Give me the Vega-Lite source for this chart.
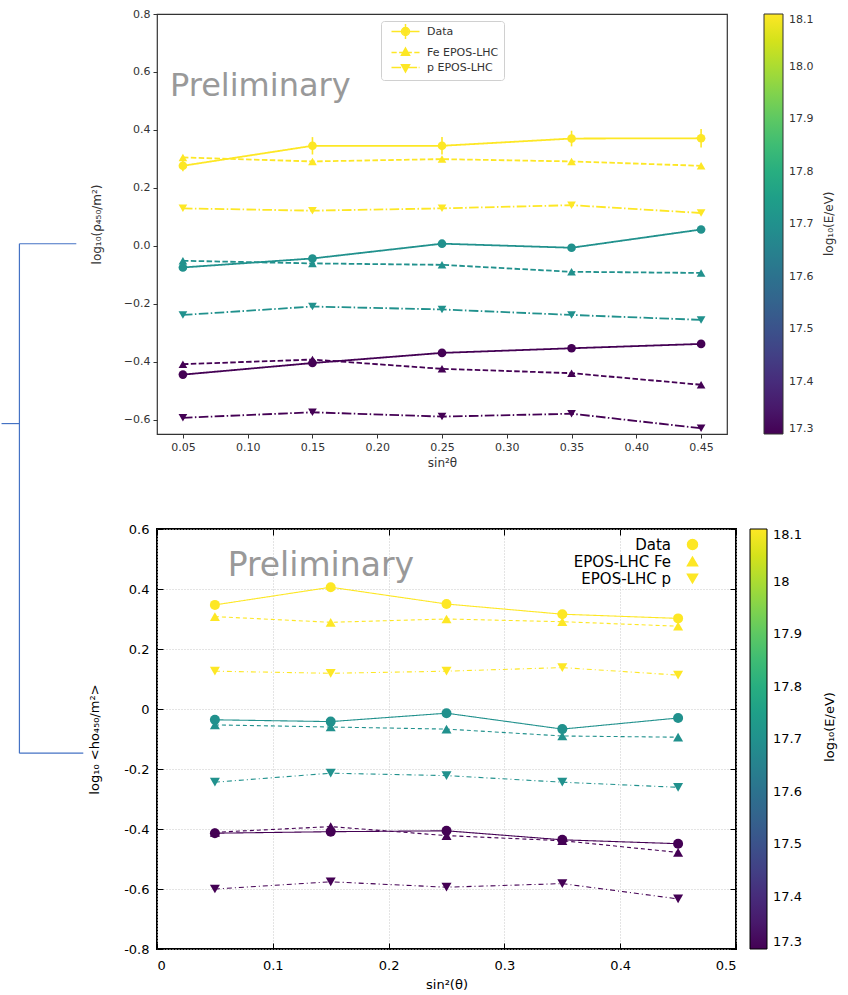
{
  "$schema": "https://vega.github.io/schema/vega-lite/v6.json",
  "padding": {"left": 0, "top": 7, "right": 0, "bottom": 0},
  "background": "white",
  "config": {"font": "DejaVu Sans", "legend": {"symbolBaseFillColor": "#fde725", "symbolBaseStrokeColor": "#fde725"}},
  "datasets": {
    "top": [
      {"x": 0.05, "E": 18.1, "model": "Data", "y": 0.276, "lo": 0.257, "hi": 0.295},
      {"x": 0.15, "E": 18.1, "model": "Data", "y": 0.345, "lo": 0.315, "hi": 0.375},
      {"x": 0.25, "E": 18.1, "model": "Data", "y": 0.345, "lo": 0.315, "hi": 0.375},
      {"x": 0.35, "E": 18.1, "model": "Data", "y": 0.370, "lo": 0.343, "hi": 0.397},
      {"x": 0.45, "E": 18.1, "model": "Data", "y": 0.371, "lo": 0.339, "hi": 0.403},
      {"x": 0.05, "E": 18.1, "model": "Fe EPOS-LHC", "y": 0.305},
      {"x": 0.15, "E": 18.1, "model": "Fe EPOS-LHC", "y": 0.291},
      {"x": 0.25, "E": 18.1, "model": "Fe EPOS-LHC", "y": 0.299},
      {"x": 0.35, "E": 18.1, "model": "Fe EPOS-LHC", "y": 0.291},
      {"x": 0.45, "E": 18.1, "model": "Fe EPOS-LHC", "y": 0.276},
      {"x": 0.05, "E": 18.1, "model": "p EPOS-LHC", "y": 0.129},
      {"x": 0.15, "E": 18.1, "model": "p EPOS-LHC", "y": 0.121},
      {"x": 0.25, "E": 18.1, "model": "p EPOS-LHC", "y": 0.129},
      {"x": 0.35, "E": 18.1, "model": "p EPOS-LHC", "y": 0.140},
      {"x": 0.45, "E": 18.1, "model": "p EPOS-LHC", "y": 0.113},
      {"x": 0.05, "E": 17.7, "model": "Data", "y": -0.075, "lo": -0.085, "hi": -0.065},
      {"x": 0.15, "E": 17.7, "model": "Data", "y": -0.044, "lo": -0.054, "hi": -0.034},
      {"x": 0.25, "E": 17.7, "model": "Data", "y": 0.007, "lo": -0.003, "hi": 0.017},
      {"x": 0.35, "E": 17.7, "model": "Data", "y": -0.007, "lo": -0.017, "hi": 0.003},
      {"x": 0.45, "E": 17.7, "model": "Data", "y": 0.056, "lo": 0.045, "hi": 0.067},
      {"x": 0.05, "E": 17.7, "model": "Fe EPOS-LHC", "y": -0.052},
      {"x": 0.15, "E": 17.7, "model": "Fe EPOS-LHC", "y": -0.061},
      {"x": 0.25, "E": 17.7, "model": "Fe EPOS-LHC", "y": -0.066},
      {"x": 0.35, "E": 17.7, "model": "Fe EPOS-LHC", "y": -0.090},
      {"x": 0.45, "E": 17.7, "model": "Fe EPOS-LHC", "y": -0.094},
      {"x": 0.05, "E": 17.7, "model": "p EPOS-LHC", "y": -0.239},
      {"x": 0.15, "E": 17.7, "model": "p EPOS-LHC", "y": -0.210},
      {"x": 0.25, "E": 17.7, "model": "p EPOS-LHC", "y": -0.220},
      {"x": 0.35, "E": 17.7, "model": "p EPOS-LHC", "y": -0.239},
      {"x": 0.45, "E": 17.7, "model": "p EPOS-LHC", "y": -0.256},
      {"x": 0.05, "E": 17.3, "model": "Data", "y": -0.445, "lo": -0.453, "hi": -0.437},
      {"x": 0.15, "E": 17.3, "model": "Data", "y": -0.405, "lo": -0.413, "hi": -0.397},
      {"x": 0.25, "E": 17.3, "model": "Data", "y": -0.370, "lo": -0.378, "hi": -0.362},
      {"x": 0.35, "E": 17.3, "model": "Data", "y": -0.354, "lo": -0.362, "hi": -0.346},
      {"x": 0.45, "E": 17.3, "model": "Data", "y": -0.339, "lo": -0.347, "hi": -0.331},
      {"x": 0.05, "E": 17.3, "model": "Fe EPOS-LHC", "y": -0.409},
      {"x": 0.15, "E": 17.3, "model": "Fe EPOS-LHC", "y": -0.393},
      {"x": 0.25, "E": 17.3, "model": "Fe EPOS-LHC", "y": -0.425},
      {"x": 0.35, "E": 17.3, "model": "Fe EPOS-LHC", "y": -0.440},
      {"x": 0.45, "E": 17.3, "model": "Fe EPOS-LHC", "y": -0.480},
      {"x": 0.05, "E": 17.3, "model": "p EPOS-LHC", "y": -0.594},
      {"x": 0.15, "E": 17.3, "model": "p EPOS-LHC", "y": -0.575},
      {"x": 0.25, "E": 17.3, "model": "p EPOS-LHC", "y": -0.590},
      {"x": 0.35, "E": 17.3, "model": "p EPOS-LHC", "y": -0.580},
      {"x": 0.45, "E": 17.3, "model": "p EPOS-LHC", "y": -0.630}
    ],
    "bottom": [
      {"x": 0.05, "E": 18.1, "model": "Data", "y": 0.347},
      {"x": 0.15, "E": 18.1, "model": "Data", "y": 0.406},
      {"x": 0.25, "E": 18.1, "model": "Data", "y": 0.350},
      {"x": 0.35, "E": 18.1, "model": "Data", "y": 0.316},
      {"x": 0.45, "E": 18.1, "model": "Data", "y": 0.302},
      {"x": 0.05, "E": 18.1, "model": "EPOS-LHC Fe", "y": 0.308},
      {"x": 0.15, "E": 18.1, "model": "EPOS-LHC Fe", "y": 0.289},
      {"x": 0.25, "E": 18.1, "model": "EPOS-LHC Fe", "y": 0.300},
      {"x": 0.35, "E": 18.1, "model": "EPOS-LHC Fe", "y": 0.291},
      {"x": 0.45, "E": 18.1, "model": "EPOS-LHC Fe", "y": 0.276},
      {"x": 0.05, "E": 18.1, "model": "EPOS-LHC p", "y": 0.126},
      {"x": 0.15, "E": 18.1, "model": "EPOS-LHC p", "y": 0.119},
      {"x": 0.25, "E": 18.1, "model": "EPOS-LHC p", "y": 0.126},
      {"x": 0.35, "E": 18.1, "model": "EPOS-LHC p", "y": 0.138},
      {"x": 0.45, "E": 18.1, "model": "EPOS-LHC p", "y": 0.113},
      {"x": 0.05, "E": 17.7, "model": "Data", "y": -0.036},
      {"x": 0.15, "E": 17.7, "model": "Data", "y": -0.042},
      {"x": 0.25, "E": 17.7, "model": "Data", "y": -0.014},
      {"x": 0.35, "E": 17.7, "model": "Data", "y": -0.067},
      {"x": 0.45, "E": 17.7, "model": "Data", "y": -0.030},
      {"x": 0.05, "E": 17.7, "model": "EPOS-LHC Fe", "y": -0.053},
      {"x": 0.15, "E": 17.7, "model": "EPOS-LHC Fe", "y": -0.060},
      {"x": 0.25, "E": 17.7, "model": "EPOS-LHC Fe", "y": -0.067},
      {"x": 0.35, "E": 17.7, "model": "EPOS-LHC Fe", "y": -0.090},
      {"x": 0.45, "E": 17.7, "model": "EPOS-LHC Fe", "y": -0.094},
      {"x": 0.05, "E": 17.7, "model": "EPOS-LHC p", "y": -0.244},
      {"x": 0.15, "E": 17.7, "model": "EPOS-LHC p", "y": -0.214},
      {"x": 0.25, "E": 17.7, "model": "EPOS-LHC p", "y": -0.222},
      {"x": 0.35, "E": 17.7, "model": "EPOS-LHC p", "y": -0.244},
      {"x": 0.45, "E": 17.7, "model": "EPOS-LHC p", "y": -0.261},
      {"x": 0.05, "E": 17.3, "model": "Data", "y": -0.414},
      {"x": 0.15, "E": 17.3, "model": "Data", "y": -0.409},
      {"x": 0.25, "E": 17.3, "model": "Data", "y": -0.406},
      {"x": 0.35, "E": 17.3, "model": "Data", "y": -0.436},
      {"x": 0.45, "E": 17.3, "model": "Data", "y": -0.449},
      {"x": 0.05, "E": 17.3, "model": "EPOS-LHC Fe", "y": -0.411},
      {"x": 0.15, "E": 17.3, "model": "EPOS-LHC Fe", "y": -0.392},
      {"x": 0.25, "E": 17.3, "model": "EPOS-LHC Fe", "y": -0.422},
      {"x": 0.35, "E": 17.3, "model": "EPOS-LHC Fe", "y": -0.439},
      {"x": 0.45, "E": 17.3, "model": "EPOS-LHC Fe", "y": -0.478},
      {"x": 0.05, "E": 17.3, "model": "EPOS-LHC p", "y": -0.600},
      {"x": 0.15, "E": 17.3, "model": "EPOS-LHC p", "y": -0.576},
      {"x": 0.25, "E": 17.3, "model": "EPOS-LHC p", "y": -0.594},
      {"x": 0.35, "E": 17.3, "model": "EPOS-LHC p", "y": -0.582},
      {"x": 0.45, "E": 17.3, "model": "EPOS-LHC p", "y": -0.633}
    ]
  },
  "spacing": 95,
  "bounds": "flush",
  "resolve": {
    "scale": {"x": "independent", "y": "independent", "color": "independent", "fill": "independent", "shape": "independent", "strokeDash": "independent"},
    "legend": {"color": "independent", "fill": "independent", "shape": "independent", "strokeDash": "independent"},
    "axis": {"x": "independent", "y": "independent"}
  },
  "vconcat": [
    {
      "width": 570,
      "height": 420,
      "view": {"stroke": "#333", "strokeWidth": 1.2},
      "resolve": {"scale": {"shape": "independent"}, "legend": {"shape": "independent"}},
      "layer": [
        {
          "data": {"values": [
            {"x": -0.0762, "xe": -0.0323, "y": 0.0069, "ye": 0.0069},
            {"x": -0.0762, "xe": -0.0762, "y": 0.0069, "ye": -1.752},
            {"x": -0.0762, "xe": -0.0269, "y": -1.752, "ye": -1.752},
            {"x": -0.09, "xe": -0.0762, "y": -0.614, "ye": -0.614}
          ]},
          "mark": {"type": "rule", "color": "#4472c4", "strokeWidth": 1.2, "clip": false},
          "encoding": {
            "x": {"field": "x", "type": "quantitative", "scale": {"domain": [0.03, 0.47], "nice": false, "zero": false}},
            "x2": {"field": "xe"},
            "y": {"field": "y", "type": "quantitative", "scale": {"domain": [-0.65, 0.8], "nice": false, "zero": false}},
            "y2": {"field": "ye"}
          }
        },
        {
          "data": {"values": [{"label": "Preliminary"}]},
          "mark": {"type": "text", "fontSize": 32, "color": "#999999", "align": "left", "baseline": "alphabetic", "font": "DejaVu Sans"},
          "encoding": {
            "text": {"field": "label"},
            "x": {"datum": 0.0400, "type": "quantitative", "scale": {"domain": [0.03, 0.47], "nice": false, "zero": false}},
            "y": {"datum": 0.517, "type": "quantitative", "scale": {"domain": [-0.65, 0.8], "nice": false, "zero": false}}
          }
        },
        {
          "data": {"values": [{"label": "log₁₀(E/eV)"}]},
          "mark": {"type": "text", "fontSize": 12, "color": "#333", "align": "center", "baseline": "middle", "angle": -90, "font": "DejaVu Sans"},
          "encoding": {
            "text": {"field": "label"},
            "x": {"datum": 0.5485, "type": "quantitative", "scale": {"domain": [0.03, 0.47], "nice": false, "zero": false}},
            "y": {"datum": 0.076, "type": "quantitative", "scale": {"domain": [-0.65, 0.8], "nice": false, "zero": false}}
          }
        },
        {
          "data": {"name": "top"},
          "mark": {"type": "line", "strokeWidth": 1.8},
          "encoding": {
            "x": {"field": "x", "type": "quantitative", "scale": {"domain": [0.03, 0.47], "nice": false, "zero": false},
              "axis": {"title": "sin²θ", "values": [0.05, 0.1, 0.15, 0.2, 0.25, 0.3, 0.35, 0.4, 0.45], "format": ".2f", "domain": false, "grid": false, "tickSize": 4, "tickColor": "#333", "labelFont": "DejaVu Sans", "labelFontSize": 11, "labelColor": "#333", "labelPadding": 3, "titleFont": "DejaVu Sans", "titleFontSize": 12, "titleFontWeight": "normal", "titleColor": "#333", "titlePadding": 5}},
            "y": {"field": "y", "type": "quantitative", "scale": {"domain": [-0.65, 0.8], "nice": false, "zero": false},
              "axis": {"title": "log₁₀(ρ₄₅₀/m²)", "values": [-0.6, -0.4, -0.2, 0, 0.2, 0.4, 0.6, 0.8], "format": ".1f", "domain": false, "grid": false, "tickSize": 4, "tickColor": "#333", "labelFont": "DejaVu Sans", "labelFontSize": 11, "labelColor": "#333", "labelPadding": 3, "titleFont": "DejaVu Sans", "titleFontSize": 12, "titleFontWeight": "normal", "titleColor": "#333", "titlePadding": 20}},
            "color": {"field": "E", "type": "quantitative", "scale": {"scheme": "viridis", "domain": [17.3, 18.1]},
              "legend": {"type": "gradient", "orient": "right", "direction": "vertical", "offset": 37, "gradientLength": 420, "gradientThickness": 19, "gradientStrokeColor": "#333", "gradientStrokeWidth": 1, "values": [17.3, 17.4, 17.5, 17.6, 17.7, 17.8, 17.9, 18.0, 18.1], "format": ".1f", "labelOverlap": false, "labelBaseline": "middle", "labelFont": "DejaVu Sans", "labelFontSize": 11, "labelColor": "#333", "labelOffset": 6, "title": null}},
            "strokeDash": {"field": "model", "type": "nominal", "scale": {"domain": ["p EPOS-LHC", "Fe EPOS-LHC", "Data"], "range": [[9.6, 2.4, 1.5, 2.4], [5.5, 2.4], [1, 0]]}, "legend": null},
            "detail": {"field": "E", "type": "nominal"}
          }
        },
        {
          "data": {"name": "top"},
          "mark": {"type": "rule", "strokeWidth": 1.6},
          "encoding": {
            "x": {"field": "x", "type": "quantitative", "scale": {"domain": [0.03, 0.47], "nice": false, "zero": false}},
            "y": {"field": "lo", "type": "quantitative", "scale": {"domain": [-0.65, 0.8], "nice": false, "zero": false}},
            "y2": {"field": "hi"},
            "color": {"field": "E", "type": "quantitative", "scale": {"scheme": "viridis", "domain": [17.3, 18.1]}}
          }
        },
        {
          "data": {"name": "top"},
          "mark": {"type": "point", "filled": true, "opacity": 1, "size": 75},
          "encoding": {
            "x": {"field": "x", "type": "quantitative", "scale": {"domain": [0.03, 0.47], "nice": false, "zero": false}},
            "y": {"field": "y", "type": "quantitative", "scale": {"domain": [-0.65, 0.8], "nice": false, "zero": false}},
            "fill": {"field": "E", "type": "quantitative", "scale": {"scheme": "viridis", "domain": [17.29999, 18.10001]}, "legend": null},
            "shape": {"field": "model", "type": "nominal", "scale": {"domain": ["p EPOS-LHC", "Fe EPOS-LHC", "Data"], "range": ["triangle-down", "triangle-up", "circle"]}, "legend": null}
          }
        },
        {
          "data": {"name": "top"},
          "transform": [{"filter": "false"}],
          "mark": {"type": "point", "filled": false, "color": "#fde725", "strokeWidth": 1.5, "opacity": 1},
          "encoding": {
            "x": {"field": "x", "type": "quantitative", "scale": {"domain": [0.03, 0.47], "nice": false, "zero": false}},
            "y": {"field": "y", "type": "quantitative", "scale": {"domain": [-0.65, 0.8], "nice": false, "zero": false}},
            "shape": {"field": "model", "type": "nominal",
              "scale": {"domain": ["Data", "Fe EPOS-LHC", "p EPOS-LHC"], "range": [
                "M-3.5,0H3.5M0,-1.9V1.9M-1,0A1,1,0,1,1,1,0A1,1,0,1,1,-1,0ZM-0.6,0A0.6,0.6,0,1,1,0.6,0A0.6,0.6,0,1,1,-0.6,0ZM-0.25,0A0.25,0.25,0,1,1,0.25,0A0.25,0.25,0,1,1,-0.25,0Z",
                "M-3.5,0H-2.2M-1.6,0H-0.3M0.3,0H1.6M2.2,0H3.5M0,-1.1L1,0.7L-1,0.7ZM0,-0.66L0.6,0.42L-0.6,0.42ZM0,-0.28L0.25,0.18L-0.25,0.18ZM0,-1V0.6",
                "M-3.5,0H-1.1M-0.5,0H-0.1M0.5,0H2.9M3.3,0H3.5M0,1.1L1,-0.7L-1,-0.7ZM0,0.66L0.6,-0.42L-0.6,-0.42ZM0,0.28L0.25,-0.18L-0.25,-0.18ZM0,1V-0.6"]},
              "legend": {"orient": "none", "legendX": 224, "legendY": 7, "title": null, "symbolSize": 64, "symbolOffset": 14, "labelOffset": 16, "padding": 5, "rowPadding": 2, "strokeColor": "#d0d0d0", "fillColor": "rgba(255,255,255,0.85)", "cornerRadius": 3, "labelFont": "DejaVu Sans", "labelFontSize": 11, "labelColor": "#333", "symbolStrokeColor": "#fde725", "symbolStrokeWidth": 1.5}}
          }
        }
      ]
    },
    {
      "width": 579,
      "height": 420,
      "view": {"stroke": "#000", "strokeWidth": 2},
      "resolve": {"axis": {"x": "independent", "y": "independent"}},
      "layer": [
        {
          "data": {"values": [{"label": "Preliminary"}]},
          "mark": {"type": "text", "fontSize": 33, "color": "#999999", "align": "left", "baseline": "alphabetic", "font": "DejaVu Sans"},
          "encoding": {
            "text": {"field": "label"},
            "x": {"datum": 0.0610, "type": "quantitative", "scale": {"domain": [0, 0.5], "nice": false, "zero": false}, "axis": null},
            "y": {"datum": 0.443, "type": "quantitative", "scale": {"domain": [-0.8, 0.6], "nice": false, "zero": false}, "axis": null}
          }
        },
        {
          "data": {"values": [{"label": "log₁₀(E/eV)"}]},
          "mark": {"type": "text", "fontSize": 13, "color": "#000", "align": "center", "baseline": "middle", "angle": -90, "font": "DejaVu Sans"},
          "encoding": {
            "text": {"field": "label"},
            "x": {"datum": 0.5813, "type": "quantitative", "scale": {"domain": [0, 0.5], "nice": false, "zero": false}, "axis": null},
            "y": {"datum": -0.06, "type": "quantitative", "scale": {"domain": [-0.8, 0.6], "nice": false, "zero": false}, "axis": null}
          }
        },
        {
          "data": {"name": "bottom"},
          "mark": {"type": "line", "strokeWidth": 1.1},
          "encoding": {
            "x": {"field": "x", "type": "quantitative", "scale": {"domain": [0, 0.5], "nice": false, "zero": false},
              "axis": {"orient": "bottom", "title": "sin²(θ)", "values": [0, 0.1, 0.2, 0.3, 0.4, 0.5], "format": ".1~f", "domain": false, "grid": true, "gridColor": "#c8c8c8", "gridDash": [1, 2], "tickSize": -6, "tickColor": "#000", "tickWidth": 1, "labelFont": "DejaVu Sans", "labelFontSize": 13, "labelColor": "#000", "labelPadding": 16, "titleFont": "DejaVu Sans", "titleFontSize": 13, "titleFontWeight": "normal", "titleColor": "#000", "titlePadding": 6}},
            "y": {"field": "y", "type": "quantitative", "scale": {"domain": [-0.8, 0.6], "nice": false, "zero": false},
              "axis": {"orient": "left", "title": "log₁₀ <ho₄₅₀/m²>", "values": [-0.8, -0.6, -0.4, -0.2, 0, 0.2, 0.4, 0.6], "format": ".1~f", "labelExpr": "replace(datum.label, '−', '-')", "domain": false, "grid": true, "gridColor": "#c8c8c8", "gridDash": [1, 2], "tickSize": -6, "tickColor": "#000", "tickWidth": 1, "labelFont": "DejaVu Sans", "labelFontSize": 13, "labelColor": "#000", "labelPadding": 14, "titleFont": "DejaVu Sans", "titleFontSize": 13, "titleFontWeight": "normal", "titleColor": "#000", "titlePadding": 22}},
            "color": {"field": "E", "type": "quantitative", "scale": {"scheme": "viridis", "domain": [17.3, 18.1]},
              "legend": {"type": "gradient", "orient": "right", "direction": "vertical", "offset": 13, "gradientLength": 420, "gradientThickness": 17, "gradientStrokeColor": "#000", "gradientStrokeWidth": 1, "values": [17.3, 17.4, 17.5, 17.6, 17.7, 17.8, 17.9, 18.0, 18.1], "format": ".1~f", "labelOverlap": false, "labelBaseline": "middle", "labelFont": "DejaVu Sans", "labelFontSize": 13, "labelColor": "#000", "labelOffset": 6, "title": null}},
            "strokeDash": {"field": "model", "type": "nominal", "scale": {"domain": ["EPOS-LHC p", "EPOS-LHC Fe", "Data"], "range": [[5, 3, 1, 3], [4, 3], [1, 0]]}, "legend": null},
            "detail": {"field": "E", "type": "nominal"}
          }
        },
        {
          "data": {"name": "bottom"},
          "mark": {"type": "point", "filled": true, "opacity": 1, "size": 100},
          "encoding": {
            "x": {"field": "x", "type": "quantitative", "scale": {"domain": [0, 0.5], "nice": false, "zero": false},
              "axis": {"orient": "top", "title": null, "values": [0, 0.1, 0.2, 0.3, 0.4, 0.5], "labels": false, "domain": false, "grid": false, "tickSize": -6, "tickColor": "#000"}},
            "y": {"field": "y", "type": "quantitative", "scale": {"domain": [-0.8, 0.6], "nice": false, "zero": false},
              "axis": {"orient": "right", "title": null, "values": [-0.8, -0.6, -0.4, -0.2, 0, 0.2, 0.4, 0.6], "labels": false, "domain": false, "grid": false, "tickSize": -6, "tickColor": "#000"}},
            "fill": {"field": "E", "type": "quantitative", "scale": {"scheme": "viridis", "domain": [17.29999, 18.10001]}, "legend": null},
            "shape": {"field": "model", "type": "nominal", "scale": {"domain": ["Data", "EPOS-LHC Fe", "EPOS-LHC p"], "range": ["circle", "triangle-up", "triangle-down"]},
              "legend": {"orient": "none", "legendX": 518, "legendY": 8, "title": null, "symbolSize": 100, "symbolOffset": 10, "labelAlign": "right", "labelOffset": -29, "rowPadding": 1, "padding": 0, "labelFont": "DejaVu Sans", "labelFontSize": 15, "labelColor": "#000", "symbolFillColor": "#fde725", "symbolStrokeColor": "#fde725"}}
          }
        }
      ]
    }
  ]
}
